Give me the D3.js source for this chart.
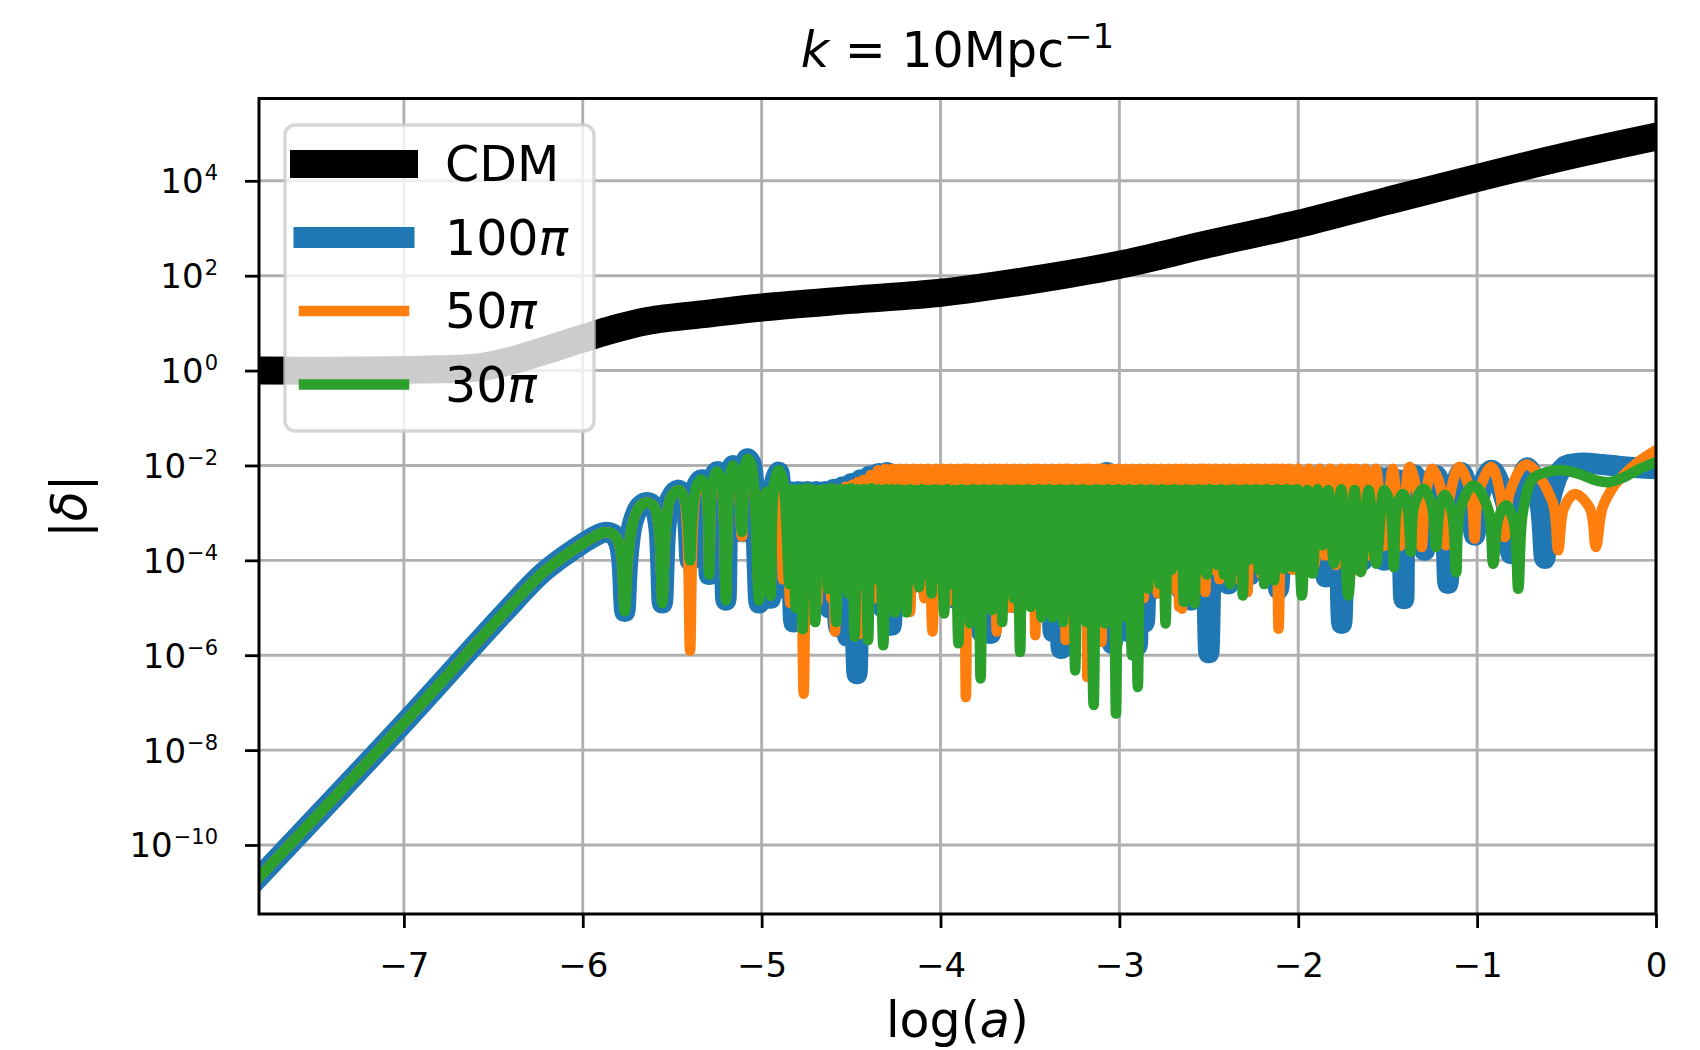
<!DOCTYPE html>
<html>
<head>
<meta charset="utf-8">
<script src="https://cdn.jsdelivr.net/npm/d3@7/dist/d3.min.js"></script>
<style>
  body { margin: 0; background: #fff; }
  text { font-family: "DejaVu Sans", sans-serif; fill: #000; }
</style>
</head>
<body>
<svg id="chart" width="1700" height="1050"></svg>
<script>
// tick positions: log(a) and exponents of |delta|
var xTicks = [-7, -6, -5, -4, -3, -2, -1, 0];
var yTickExps = [-10, -8, -6, -4, -2, 0, 2, 4];

// each point is [log(a), log10 |delta|]
var cdm = [[-7.81,0.0],[-7.2,0.0],[-6.9,0.02],[-6.6,0.06],[-6.42,0.19],[-6.24,0.39],[-6.08,0.58],[-5.92,0.77],
  [-5.8,0.9],[-5.63,1.05],[-5.3,1.2],[-5.0,1.33],[-4.5,1.49],[-4.0,1.64],[-3.52,1.89],[-3.0,2.23],
  [-2.5,2.67],[-2.0,3.09],[-1.5,3.58],[-1.0,4.06],[-0.5,4.52],[0,4.93]];

var pi100 = [[-7.81,-10.68],[-7.0,-7.43],[-6.45,-5.15],[-6.22,-4.25],[-6.03,-3.72],[-5.92,-3.47],
  [-5.88,-3.41],[-5.83,-3.45],[-5.80,-3.62],[-5.783,-3.95],[-5.765,-5.08],[-5.747,-3.95],[-5.72,-3.2],[-5.68,-2.86],
  [-5.64,-2.78],[-5.60,-2.88],[-5.575,-3.3],[-5.555,-4.9],[-5.535,-3.3],[-5.51,-2.7],[-5.47,-2.52],[-5.44,-2.62],
  [-5.415,-3.1],[-5.40,-4.0],[-5.385,-3.0],[-5.36,-2.4],[-5.335,-2.3],[-5.31,-2.5],[-5.293,-4.3],[-5.275,-2.4],
  [-5.25,-2.13],[-5.225,-2.35],[-5.20,-4.84],[-5.18,-2.3],[-5.16,-2.0],[-5.135,-2.25],[-5.11,-3.4],[-5.095,-2.1],
  [-5.08,-1.86],[-5.06,-1.95],[-5.04,-2.6],[-5.014,-4.9],[-4.99,-2.7],[-4.97,-2.55],[-4.95,-4.8],[-4.93,-2.4],
  [-4.905,-2.14],[-4.895,-2.4],
  [-4.87,-4.6],[-4.845,-2.55],[-4.82,-5.3],[-4.795,-2.55],[-4.77,-5.2],[-4.745,-2.55],[-4.72,-4.9],[-4.695,-2.55],
  [-4.67,-4.6],[-4.645,-2.55],[-4.62,-5.0],[-4.595,-2.5],[-4.57,-5.4],[-4.545,-2.45],[-4.52,-5.6],[-4.495,-2.38],
  [-4.467,-6.39],[-4.445,-2.3],[-4.42,-5.0],[-4.395,-2.22],[-4.37,-4.6],[-4.345,-2.17],[-4.32,-5.0],[-4.3,-2.15],
  [-4.275,-5.37],[-4.25,-2.2],[-4.22,-4.6],[-4.195,-2.25],[-4.17,-4.5],[-4.145,-2.25],[-4.12,-4.4],[-4.095,-2.25],
  [-4.07,-4.6],[-4.045,-2.25],[-4.02,-4.5],[-3.995,-2.25],[-3.97,-4.7],[-3.945,-2.25],[-3.92,-4.8],[-3.895,-2.25],
  [-3.87,-4.6],[-3.845,-2.25],[-3.82,-5.0],[-3.795,-2.25],[-3.77,-5.5],[-3.745,-2.25],[-3.72,-5.54],[-3.695,-2.25],
  [-3.67,-4.8],[-3.645,-2.25],[-3.62,-4.6],[-3.595,-2.25],[-3.57,-4.9],[-3.545,-2.25],[-3.52,-4.7],[-3.495,-2.25],
  [-3.47,-4.9],[-3.445,-2.25],[-3.42,-5.1],[-3.395,-2.25],[-3.37,-5.5],[-3.348,-2.25],[-3.325,-5.86],[-3.3,-2.25],
  [-3.28,-5.4],[-3.255,-2.25],[-3.23,-4.9],[-3.205,-2.25],[-3.18,-4.8],[-3.155,-2.25],[-3.13,-5.0],[-3.105,-2.25],
  [-3.08,-5.5],[-3.07,-2.15],[-3.04,-5.75],[-3.015,-2.25],[-2.99,-5.0],[-2.97,-2.25],[-2.95,-5.5],[-2.925,-2.25],
  [-2.9,-5.79],[-2.88,-2.25],[-2.86,-5.3],[-2.835,-2.25],[-2.81,-4.6],[-2.785,-2.25],[-2.76,-4.53],[-2.735,-2.25],
  [-2.71,-4.3],[-2.683,-2.25],[-2.655,-4.6],[-2.628,-2.25],[-2.6,-4.84],[-2.575,-2.25],[-2.55,-4.5],[-2.525,-2.25],
  [-2.5,-5.95],[-2.475,-2.25],[-2.45,-4.3],[-2.42,-2.25],[-2.39,-4.5],[-2.36,-2.25],[-2.33,-4.2],[-2.3,-2.25],
  [-2.27,-4.3],[-2.245,-2.25],[-2.22,-4.0],[-2.195,-2.25],[-2.17,-4.14],[-2.14,-2.25],[-2.11,-4.6],[-2.08,-2.25],
  [-2.05,-4.0],[-2.02,-2.25],[-1.99,-4.1],[-1.96,-2.25],[-1.93,-3.9],[-1.91,-2.25],[-1.89,-4.0],[-1.867,-2.25],
  [-1.845,-4.35],[-1.822,-2.25],[-1.80,-4.0],[-1.78,-2.25],[-1.757,-5.33],[-1.73,-2.25],[-1.70,-3.9],[-1.67,-2.25],
  [-1.64,-4.0],[-1.61,-2.25],[-1.58,-3.8],[-1.55,-2.25],[-1.52,-4.0],[-1.49,-2.25],[-1.465,-3.8],[-1.44,-2.3],
  [-1.425,-2.9],[-1.41,-4.81],[-1.395,-2.9],[-1.35,-2.2],[-1.31,-2.9],[-1.294,-3.79],[-1.278,-2.9],[-1.23,-2.21],
  [-1.185,-2.9],[-1.163,-4.49],[-1.14,-2.9],[-1.09,-2.15],[-1.04,-2.7],[-1.014,-3.47],[-0.99,-2.7],[-0.92,-2.1],
  [-0.84,-2.8],[-0.81,-3.86],[-0.78,-2.8],[-0.72,-2.05],[-0.65,-2.8],[-0.622,-3.96],[-0.595,-2.8],[-0.52,-2.05],
  [-0.43,-1.95],[-0.3,-1.98],[-0.2,-2.02],[-0.1,-2.05],[0,-2.07]];

var pi50 = [[-7.81,-10.68],[-7.0,-7.43],[-6.45,-5.15],[-6.22,-4.25],[-6.03,-3.72],[-5.92,-3.47],[-5.88,-3.41],
  [-5.83,-3.45],[-5.80,-3.62],[-5.783,-3.95],[-5.765,-5.0],[-5.747,-3.95],[-5.72,-3.2],[-5.68,-2.86],[-5.64,-2.78],
  [-5.60,-2.88],[-5.575,-3.3],[-5.555,-4.8],[-5.535,-3.3],[-5.51,-2.7],[-5.47,-2.52],[-5.44,-2.62],[-5.417,-3.3],
  [-5.40,-5.9],[-5.383,-3.2],[-5.36,-2.45],[-5.335,-2.35],[-5.31,-2.55],[-5.293,-4.2],[-5.275,-2.45],[-5.25,-2.2],
  [-5.225,-2.4],[-5.20,-4.7],[-5.18,-2.35],[-5.16,-2.1],[-5.135,-2.3],[-5.11,-3.5],[-5.09,-2.1],[-5.07,-2.0],
  [-5.04,-2.6],[-5.014,-4.7],[-4.99,-2.7],[-4.97,-2.6],[-4.95,-4.6],[-4.93,-2.5],[-4.905,-2.35],
  [-4.88,-4.4],[-4.86,-2.55],[-4.84,-4.9],[-4.82,-2.55],[-4.80,-4.5],[-4.783,-2.6],[-4.765,-6.81],[-4.748,-2.6],
  [-4.73,-4.6],[-4.71,-2.55],[-4.69,-4.9],[-4.67,-2.55],[-4.65,-4.4],[-4.63,-2.55],[-4.61,-4.8],[-4.6,-2.55],
  [-4.59,-5.5],[-4.57,-2.5],[-4.55,-4.4],[-4.53,-2.45],[-4.51,-4.7],[-4.49,-2.4],[-4.47,-4.5],[-4.46,-2.35],
  [-4.45,-5.55],[-4.43,-2.3],[-4.41,-4.6],[-4.39,-2.2],[-4.37,-4.8],[-4.35,-2.1],[-4.33,-4.5],[-4.31,-2.07],
  [-4.29,-4.9],[-4.27,-2.07],[-4.25,-4.4],[-4.23,-2.07],[-4.21,-4.7],[-4.19,-2.07],[-4.17,-5.09],[-4.15,-2.07],
  [-4.13,-4.5],[-4.11,-2.07],[-4.09,-4.8],[-4.07,-2.07],[-4.045,-5.5],[-4.025,-2.07],[-4.005,-4.5],[-3.985,-2.07],
  [-3.965,-4.9],[-3.945,-2.07],[-3.925,-4.6],[-3.905,-2.07],[-3.885,-5.0],[-3.87,-2.07],[-3.858,-6.88],[-3.845,-2.07],
  [-3.825,-4.6],[-3.805,-2.07],[-3.785,-5.0],[-3.765,-2.07],[-3.745,-4.5],[-3.725,-2.07],[-3.705,-4.9],[-3.695,-2.07],
  [-3.686,-5.5],[-3.67,-2.07],[-3.65,-4.6],[-3.63,-2.07],[-3.61,-5.0],[-3.59,-2.07],[-3.57,-4.5],[-3.55,-2.07],
  [-3.53,-4.9],[-3.51,-2.07],[-3.49,-4.6],[-3.48,-2.07],[-3.47,-5.58],[-3.455,-2.07],[-3.435,-4.7],[-3.415,-2.07],
  [-3.395,-5.0],[-3.375,-2.07],[-3.355,-4.6],[-3.335,-2.07],[-3.315,-5.1],[-3.307,-2.07],[-3.30,-5.68],[-3.285,-2.07],
  [-3.265,-4.7],[-3.245,-2.07],[-3.225,-5.0],[-3.205,-2.07],[-3.19,-4.6],[-3.185,-2.07],[-3.18,-6.46],[-3.165,-2.07],
  [-3.145,-4.8],[-3.125,-2.07],[-3.11,-4.6],[-3.105,-2.07],[-3.10,-5.72],[-3.085,-2.07],[-3.065,-4.6],[-3.045,-2.07],
  [-3.025,-5.0],[-3.005,-2.07],[-2.985,-4.5],[-2.965,-2.07],[-2.945,-4.9],[-2.925,-2.07],[-2.905,-4.5],[-2.885,-2.07],
  [-2.865,-4.8],[-2.845,-2.07],[-2.825,-4.4],[-2.805,-2.07],[-2.785,-4.7],[-2.765,-2.07],[-2.745,-4.4],[-2.725,-2.07],
  [-2.705,-4.6],[-2.685,-2.07],[-2.665,-4.98],[-2.657,-2.07],[-2.65,-5.02],[-2.63,-2.07],[-2.61,-4.4],[-2.59,-2.07],
  [-2.57,-4.5],[-2.55,-2.07],[-2.535,-4.3],[-2.527,-2.07],[-2.52,-4.67],[-2.5,-2.07],[-2.48,-4.2],[-2.46,-2.07],
  [-2.44,-4.4],[-2.42,-2.07],[-2.4,-4.1],[-2.38,-2.07],[-2.36,-4.4],[-2.34,-2.07],[-2.32,-4.1],[-2.30,-2.07],
  [-2.284,-4.67],[-2.265,-2.07],[-2.245,-4.1],[-2.225,-2.07],[-2.205,-4.3],[-2.185,-2.07],[-2.165,-4.0],[-2.145,-2.07],
  [-2.125,-4.2],[-2.12,-2.07],[-2.11,-5.44],[-2.09,-2.07],[-2.07,-4.0],[-2.05,-2.07],[-2.03,-4.2],[-2.0,-2.07],
  [-1.97,-3.9],[-1.94,-2.07],[-1.91,-4.1],[-1.88,-2.07],[-1.85,-3.9],[-1.82,-2.07],[-1.79,-4.1],[-1.76,-2.07],
  [-1.73,-3.9],[-1.715,-2.07],[-1.70,-4.25],[-1.675,-2.07],[-1.65,-3.8],[-1.625,-2.07],[-1.60,-3.9],[-1.565,-2.07],
  [-1.52,-3.7],[-1.472,-2.07],[-1.43,-3.7],[-1.378,-2.03],[-1.33,-2.7],[-1.31,-3.72],[-1.29,-2.7],[-1.25,-2.07],
  [-1.19,-2.7],[-1.173,-3.68],[-1.155,-2.7],[-1.1,-2.03],[-1.035,-2.6],[-1.014,-3.54],[-0.993,-2.6],[-0.92,-2.03],
  [-0.87,-2.6],[-0.846,-3.51],[-0.82,-2.6],[-0.725,-1.98],[-0.58,-2.75],[-0.547,-3.79],[-0.515,-2.9],[-0.454,-2.6],
  [-0.37,-2.9],[-0.336,-3.72],[-0.3,-2.9],[-0.24,-2.46],[-0.183,-2.21],[-0.09,-1.9],[0,-1.68]];

var pi30 = [[-7.81,-10.68],[-7.0,-7.43],[-6.45,-5.15],[-6.22,-4.25],[-6.03,-3.72],[-5.92,-3.47],
  [-5.88,-3.41],[-5.83,-3.45],[-5.80,-3.62],[-5.783,-3.95],[-5.765,-5.08],[-5.747,-3.95],[-5.72,-3.2],[-5.68,-2.86],
  [-5.64,-2.78],[-5.60,-2.88],[-5.575,-3.3],[-5.555,-4.9],[-5.535,-3.3],[-5.51,-2.7],[-5.47,-2.52],[-5.44,-2.62],
  [-5.415,-3.1],[-5.40,-4.0],[-5.385,-3.0],[-5.36,-2.4],[-5.335,-2.3],[-5.31,-2.5],[-5.293,-4.3],[-5.275,-2.4],
  [-5.25,-2.13],[-5.225,-2.35],[-5.20,-4.84],[-5.18,-2.3],[-5.16,-2.0],[-5.135,-2.25],[-5.11,-3.4],[-5.095,-2.1],
  [-5.08,-1.86],[-5.06,-1.95],[-5.04,-2.6],[-5.014,-4.84],[-4.99,-2.7],[-4.97,-2.55],[-4.95,-4.75],[-4.93,-2.4],
  [-4.905,-2.1],[-4.88,-2.35],
  [-4.845,-4.5],[-4.828,-2.5],[-4.81,-5.0],[-4.79,-2.5],[-4.77,-5.45],[-4.752,-2.48],[-4.735,-4.4],[-4.718,-2.5],
  [-4.70,-5.3],[-4.682,-2.52],[-4.665,-4.2],[-4.648,-2.5],[-4.63,-4.6],[-4.607,-2.48],[-4.583,-5.3],[-4.566,-2.5],
  [-4.55,-4.4],[-4.532,-2.5],[-4.515,-4.7],[-4.497,-2.48],[-4.48,-5.61],[-4.462,-2.5],[-4.445,-4.5],[-4.425,-2.5],
  [-4.405,-5.68],[-4.387,-2.48],[-4.37,-4.4],[-4.345,-2.5],[-4.32,-5.79],[-4.305,-2.5],[-4.29,-4.5],[-4.272,-2.5],
  [-4.255,-5.1],[-4.237,-2.5],[-4.22,-4.3],[-4.205,-2.52],[-4.19,-5.1],[-4.172,-2.5],[-4.155,-4.4],[-4.137,-2.52],
  [-4.12,-4.56],[-4.102,-2.5],[-4.085,-4.3],[-4.067,-2.52],[-4.05,-4.7],[-4.032,-2.5],[-4.015,-4.4],[-3.997,-2.52],
  [-3.98,-5.12],[-3.962,-2.5],[-3.945,-4.5],[-3.922,-2.52],[-3.90,-5.75],[-3.885,-2.5],[-3.87,-4.4],[-3.852,-2.52],
  [-3.835,-5.33],[-3.82,-2.5],[-3.805,-4.5],[-3.79,-2.52],[-3.776,-6.49],[-3.76,-2.5],[-3.745,-4.6],[-3.73,-2.52],
  [-3.715,-5.05],[-3.70,-2.5],[-3.685,-4.4],[-3.67,-2.52],[-3.655,-5.3],[-3.64,-2.5],[-3.625,-4.5],[-3.607,-2.52],
  [-3.59,-4.8],[-3.572,-2.5],[-3.555,-5.93],[-3.54,-2.52],[-3.525,-4.5],[-3.51,-2.5],[-3.495,-4.98],[-3.48,-2.52],
  [-3.465,-4.6],[-3.45,-2.5],[-3.435,-5.2],[-3.42,-2.52],[-3.405,-4.5],[-3.39,-2.5],[-3.375,-5.2],[-3.36,-2.52],
  [-3.345,-4.6],[-3.33,-2.5],[-3.315,-5.3],[-3.297,-2.52],[-3.28,-4.7],[-3.263,-2.5],[-3.247,-6.32],[-3.231,-2.52],
  [-3.215,-4.6],[-3.2,-2.5],[-3.185,-5.3],[-3.165,-2.52],[-3.144,-7.05],[-3.127,-2.5],[-3.11,-4.7],[-3.095,-2.52],
  [-3.08,-5.33],[-3.065,-2.5],[-3.05,-4.6],[-3.035,-2.52],[-3.019,-7.23],[-3.005,-2.5],[-2.99,-4.8],[-2.975,-2.52],
  [-2.96,-5.2],[-2.945,-2.5],[-2.93,-6.0],[-2.913,-2.52],[-2.897,-6.67],[-2.883,-2.5],[-2.87,-4.5],[-2.855,-2.52],
  [-2.84,-4.6],[-2.825,-2.5],[-2.81,-4.3],[-2.792,-2.52],[-2.775,-4.5],[-2.758,-2.5],[-2.742,-5.33],[-2.726,-2.52],
  [-2.71,-4.2],[-2.692,-2.5],[-2.675,-4.1],[-2.657,-2.52],[-2.64,-4.88],[-2.625,-2.5],[-2.61,-4.3],[-2.595,-2.52],
  [-2.58,-4.91],[-2.562,-2.5],[-2.545,-4.2],[-2.527,-2.52],[-2.51,-4.3],[-2.495,-2.5],[-2.48,-4.0],[-2.465,-2.52],
  [-2.45,-4.1],[-2.432,-2.5],[-2.415,-4.3],[-2.397,-2.52],[-2.38,-4.5],[-2.362,-2.5],[-2.345,-4.2],[-2.327,-2.52],
  [-2.31,-4.74],[-2.295,-2.5],[-2.28,-4.0],[-2.265,-2.52],[-2.25,-3.96],[-2.235,-2.5],[-2.22,-4.2],[-2.205,-2.52],
  [-2.19,-4.5],[-2.175,-2.5],[-2.16,-4.0],[-2.147,-2.52],[-2.134,-4.42],[-2.12,-2.5],[-2.105,-3.9],[-2.092,-2.52],
  [-2.08,-4.18],[-2.067,-2.5],[-2.055,-3.9],[-2.042,-2.52],[-2.03,-4.14],[-2.005,-2.5],[-1.98,-4.74],[-1.95,-2.52],
  [-1.92,-4.28],[-1.892,-2.5],[-1.864,-3.68],[-1.832,-2.52],[-1.80,-4.07],[-1.76,-2.5],[-1.72,-4.74],[-1.685,-2.52],
  [-1.65,-4.25],[-1.607,-2.52],[-1.565,-4.07],[-1.52,-2.52],[-1.485,-2.85],[-1.466,-4.14],[-1.447,-2.85],[-1.415,-2.6],
  [-1.388,-2.9],[-1.37,-3.82],[-1.352,-2.85],[-1.3,-2.49],[-1.255,-2.8],[-1.23,-3.72],[-1.207,-2.85],[-1.18,-2.62],
  [-1.14,-3.0],[-1.117,-4.25],[-1.093,-2.9],[-1.02,-2.42],[-0.94,-2.9],[-0.91,-4.07],[-0.88,-3.1],[-0.837,-2.84],
  [-0.795,-3.2],[-0.77,-4.6],[-0.745,-3.0],[-0.69,-2.28],[-0.61,-2.14],[-0.52,-2.1],[-0.43,-2.18],[-0.33,-2.32],
  [-0.26,-2.35],[-0.18,-2.25],[-0.09,-2.07],[0,-1.93]];

var seriesLabels = ["CDM", "100", "50", "30"];
var seriesColors = ["#000000", "#1f77b4", "#ff7f0e", "#2ca02c"];
var seriesWidths = [28, 21, 10.5, 10.5];
var seriesData = [cdm, pi100, pi50, pi30];

var plot = {left: 259, top: 98.5, right: 1656, bottom: 914};
var width = plot.right - plot.left,
    height = plot.bottom - plot.top;

var x = d3.scaleLinear().domain([-7.81, 0]).range([0, width]);
var y = d3.scaleLog().domain([Math.pow(10, -11.455), Math.pow(10, 5.735)]).range([height, 0]);

var svg = d3.select("#chart");
var g = svg.append("g").attr("transform", "translate(" + plot.left + "," + plot.top + ")");

g.append("clipPath").attr("id", "clip")
    .append("rect").attr("width", width).attr("height", height);

// grid lines below the curves
var grid = g.append("g").attr("stroke", "#b0b0b0").attr("stroke-width", 2.9);
grid.selectAll(".vx").data(xTicks).enter().append("line")
    .attr("x1", function(d) { return x(d); }).attr("x2", function(d) { return x(d); })
    .attr("y1", 0).attr("y2", height);
grid.selectAll(".hy").data(yTickExps).enter().append("line")
    .attr("x1", 0).attr("x2", width)
    .attr("y1", function(d) { return y(Math.pow(10, d)); })
    .attr("y2", function(d) { return y(Math.pow(10, d)); });

var line = d3.line()
    .x(function(d) { return x(d[0]); })
    .y(function(d) { return y(Math.pow(10, d[1])); })
    .curve(d3.curveCatmullRom.alpha(0.5));

var curves = g.append("g").attr("clip-path", "url(#clip)");
seriesData.forEach(function(data, i) {
    curves.append("path")
        .datum(data)
        .attr("d", line)
        .attr("fill", "none")
        .attr("stroke", seriesColors[i])
        .attr("stroke-width", seriesWidths[i])
        .attr("stroke-linejoin", "round")
        .attr("stroke-linecap", "square");
});

// axes: tick marks from d3, labels with superscripts by hand
var xAxis = g.append("g")
    .attr("transform", "translate(0," + height + ")")
    .call(d3.axisBottom(x).tickValues(xTicks).tickSize(14).tickPadding(25).tickFormat(d3.format("d")));
xAxis.selectAll("text").style("font-size", "34px").style("font-family", "DejaVu Sans");

var yAxis = g.append("g")
    .call(d3.axisLeft(y).tickValues(yTickExps.map(function(e) { return Math.pow(10, e); }))
          .tickSize(14).tickFormat(""));

[xAxis, yAxis].forEach(function(ax) {
    ax.select(".domain").remove();
    ax.selectAll(".tick line").attr("stroke", "#000").attr("stroke-width", 2.8);
});

var yLabels = g.append("g");
yTickExps.forEach(function(e) {
    var t = yLabels.append("text")
        .attr("x", 218 - plot.left)
        .attr("y", y(Math.pow(10, e)) + 12.5)
        .attr("text-anchor", "end")
        .style("font-size", "34px");
    t.append("tspan").text("10");
    t.append("tspan").attr("dx", 1).attr("dy", -13).style("font-size", "21px")
        .text(e < 0 ? "\u2212" + Math.abs(e) : String(e));
});

// spines
g.append("rect")
    .attr("width", width).attr("height", height)
    .attr("fill", "none").attr("stroke", "#000").attr("stroke-width", 3);

// title and axis labels
var title = svg.append("text")
    .attr("x", plot.left + width / 2).attr("y", 67)
    .attr("text-anchor", "middle").style("font-size", "49px");
title.append("tspan").style("font-style", "italic").text("k");
title.append("tspan").text(" = 10Mpc");
title.append("tspan").attr("dy", -19).style("font-size", "34px").text("\u22121");

var xl = svg.append("text")
    .attr("x", plot.left + width / 2).attr("y", 1037)
    .attr("text-anchor", "middle").style("font-size", "49px");
xl.append("tspan").text("log(");
xl.append("tspan").style("font-style", "italic").text("a");
xl.append("tspan").text(")");

var yl = svg.append("text")
    .attr("transform", "translate(86," + (plot.top + height / 2) + ") rotate(-90)")
    .attr("text-anchor", "middle").style("font-size", "49px");
yl.append("tspan").text("|");
yl.append("tspan").style("font-style", "italic").text("\u03b4");
yl.append("tspan").text("|");

// legend
var legend = svg.append("g");
legend.append("rect")
    .attr("x", 285).attr("y", 125).attr("width", 309).attr("height", 306)
    .attr("rx", 10).attr("ry", 10)
    .attr("fill", "#fff").attr("fill-opacity", 0.8)
    .attr("stroke", "#cccccc").attr("stroke-opacity", 0.8).attr("stroke-width", 3.5);

var rowY = [164, 237.5, 311, 384.5];
seriesLabels.forEach(function(lab, i) {
    legend.append("line")
        .attr("x1", 304).attr("x2", 404)
        .attr("y1", rowY[i]).attr("y2", rowY[i])
        .attr("stroke", seriesColors[i])
        .attr("stroke-width", seriesWidths[i])
        .attr("stroke-linecap", "square");
    var t = legend.append("text")
        .attr("x", 445).attr("y", rowY[i] + 17)
        .style("font-size", "49px");
    t.append("tspan").text(lab);
    if (i > 0) {
        t.append("tspan").style("font-style", "italic").text("\u03c0");
    }
});
</script>
</body>
</html>
